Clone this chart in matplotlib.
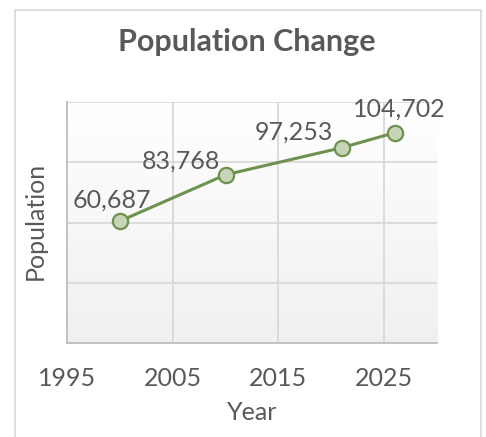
import numpy as np
import matplotlib.pyplot as plt
from matplotlib.colors import LinearSegmentedColormap
from matplotlib.patches import Rectangle

years = [2000, 2010, 2021, 2026]
population = [60687, 83768, 97253, 104702]
x_ticks = [1995, 2005, 2015, 2025]

# label offsets (pixels) relative to each point
label_offsets = [(-8, 21), (-45, 14), (-48, 16), (5, 24)]

plt.rcParams['font.family'] = ['Lato', 'DejaVu Sans']
text_color = '#595959'

fig = plt.figure(figsize=(4.86, 4.37), dpi=100)
fig.patches.append(Rectangle((15 / 486, -0.05), 466 / 486, 1.05 - 10 / 437,
                             transform=fig.transFigure, fill=False,
                             edgecolor='#d9d9d9', linewidth=1.2))

ax = fig.add_axes([67 / 486, 1 - 343 / 437, 370 / 486, 241 / 437])

# subtle vertical gradient in the plot area
grad = np.linspace(1.0, 0.0, 100).reshape(-1, 1)
bg = LinearSegmentedColormap.from_list('bg', ['#f0f0f0', '#ffffff'])
ax.imshow(grad, extent=[0, 1, 0, 1], transform=ax.transAxes, aspect='auto',
          cmap=bg, zorder=0)

ax.plot(years, population, color='#6e9150', linewidth=2.2, zorder=3,
        marker='o', markersize=11, markerfacecolor='#c6d4b8',
        markeredgecolor='#6e9150', markeredgewidth=1.6)

for x, y, (dx, dy) in zip(years, population, label_offsets):
    ax.annotate(f'{y:,}', (x, y), xytext=(dx, dy), textcoords='offset pixels',
                ha='center', va='center', fontsize=18, color=text_color, zorder=4)

ax.set_xlim(1995, 2030)
ax.set_ylim(0, 120000)
ax.set_xticks(x_ticks)
ax.set_yticks(np.arange(0, 120001, 30000))
ax.set_yticklabels([])
ax.grid(True, color='#d9d9d9', linewidth=1.3, zorder=1)
ax.set_axisbelow(True)
ax.tick_params(length=0, labelsize=18, labelcolor=text_color, pad=17)
for s in ['top', 'right']:
    ax.spines[s].set_visible(False)
for s in ['left', 'bottom']:
    ax.spines[s].set_color('#bfbfbf')
    ax.spines[s].set_linewidth(1.3)

ax.set_xlabel('Year', fontsize=18, color=text_color, va='center')
ax.xaxis.set_label_coords(0.5, (343 - 412) / 241)
ax.set_ylabel('Population', fontsize=18, color=text_color, va='center')
ax.yaxis.set_label_coords((35 - 67) / 370, (343 - 221) / 241)

fig.text(247 / 486, 1 - 42 / 437, 'Population Change', ha='center', va='center',
         fontsize=22, fontweight='bold', color=text_color)

fig.savefig('out.png', dpi=100)
